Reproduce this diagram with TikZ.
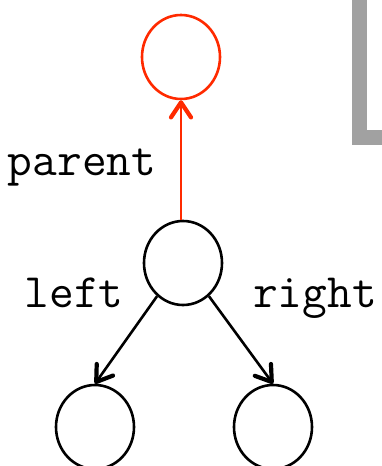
\documentclass[tikz,border=0pt]{standalone}
\usepackage{fontspec}
\usetikzlibrary{arrows.meta,positioning,shapes.geometric}
\definecolor{linkred}{RGB}{255,42,0}
\definecolor{framegray}{RGB}{161,161,161}

\begin{document}
\begin{tikzpicture}[
    x=1pt, y=-1pt,
    vertex/.style={ellipse, draw=black, line width=2.6pt, minimum width=78pt, minimum height=84pt, inner sep=0pt},
    parentvertex/.style={vertex, draw=linkred},
    link/.style={-{Straight Barb[length=15pt, width=20pt, line width=4.2pt, round]}, line width=2.6pt},
    parentlink/.style={link, draw=linkred},
    lbl/.style={font=\ttfamily\fontsize{48}{48}\selectfont, anchor=base, inner sep=0pt}
]
\useasboundingbox (0,0) rectangle (382,466);

\draw[line width=15pt, framegray] (359.5,-10) -- (359.5,137.5) -- (400,137.5);

\node[parentvertex] (up) at (181,57) {};
\node[vertex] (cur) at (183,263) {};
\node[vertex] (leftc) at (95,427) {};
\node[vertex] (rightc) at (273,427) {};

\draw[parentlink] (cur.north -| up) -- (up.south);
\draw[link] (cur.-128) -- (leftc.north);
\draw[link] (cur.-52) -- (rightc.north);

\node[lbl] (parentlbl) at (82,175) {parent};
\node[lbl] (leftlbl) at (74,307) {left};
\node[lbl] (rightlbl) at (315,307) {right};

\end{tikzpicture}
\end{document}
